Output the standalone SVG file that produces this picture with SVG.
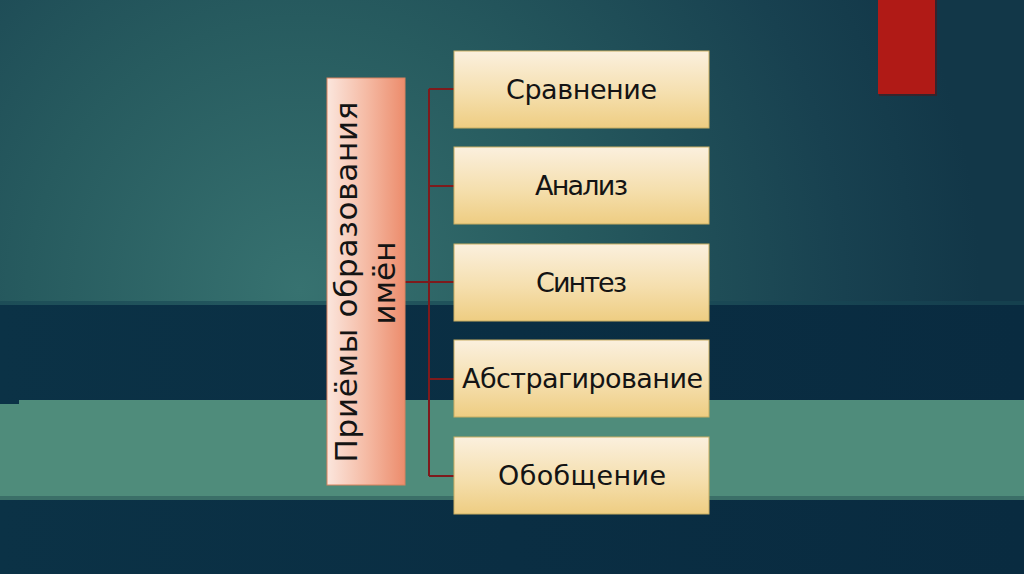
<svg xmlns="http://www.w3.org/2000/svg" width="1024" height="574" viewBox="0 0 1024 574">
  <defs>
    <radialGradient id="bgTop" gradientUnits="userSpaceOnUse" cx="300" cy="290" r="680">
      <stop offset="0" stop-color="#377270"/>
      <stop offset="0.4" stop-color="#275b5f"/>
      <stop offset="0.8" stop-color="#184150"/>
      <stop offset="1" stop-color="#123748"/>
    </radialGradient>
    <linearGradient id="navy" x1="0" y1="0" x2="1" y2="0">
      <stop offset="0" stop-color="#0b3246"/>
      <stop offset="0.5" stop-color="#0a2e43"/>
      <stop offset="1" stop-color="#092b40"/>
    </linearGradient>
    <linearGradient id="labelFill" x1="0" y1="0" x2="1" y2="0">
      <stop offset="0" stop-color="#fbe6dd"/>
      <stop offset="0.5" stop-color="#f5bba5"/>
      <stop offset="1" stop-color="#ec8c6c"/>
    </linearGradient>
    <linearGradient id="boxFill" x1="0" y1="0" x2="0" y2="1">
      <stop offset="0" stop-color="#fbf0de"/>
      <stop offset="0.55" stop-color="#f5dfae"/>
      <stop offset="1" stop-color="#eecd82"/>
    </linearGradient>
    <style>
      .box { fill: url(#boxFill); stroke: #c9ae62; stroke-width: 1; }
      .lbl { font-family: "DejaVu Sans", "Liberation Sans", sans-serif; font-size: 27px; fill: #141414; text-anchor: middle; }
      .vlbl { font-family: "DejaVu Sans", "Liberation Sans", sans-serif; font-size: 31px; fill: #141414; text-anchor: middle; }
      .conn { stroke: #7e1a1c; stroke-width: 2; fill: none; }
    </style>
  </defs>

  <!-- background -->
  <rect x="0" y="0" width="1024" height="305" fill="url(#bgTop)"/>
  <rect x="0" y="301" width="1024" height="4" fill="#174654" opacity="0.6"/>
  <rect x="0" y="305" width="1024" height="95" fill="url(#navy)"/>
  <rect x="0" y="400" width="1024" height="96" fill="#4f8c7b"/>
  <rect x="0" y="400" width="19" height="4" fill="#0b3246"/>
  <rect x="0" y="496" width="1024" height="4" fill="#3b6f68"/>
  <rect x="0" y="500" width="1024" height="74" fill="url(#navy)"/>

  <!-- red accent -->
  <rect x="879" y="0" width="58" height="96" fill="#5a1010" opacity="0.5"/>
  <rect x="878" y="0" width="57" height="94" fill="#b01a16"/>

  <!-- connectors -->
  <g id="connectors">
    <line class="conn" x1="405" y1="282" x2="429" y2="282"/>
    <line class="conn" x1="429" y1="89" x2="429" y2="476"/>
    <line class="conn" x1="429" y1="89" x2="454" y2="89"/>
    <line class="conn" x1="429" y1="186" x2="454" y2="186"/>
    <line class="conn" x1="429" y1="282" x2="454" y2="282"/>
    <line class="conn" x1="429" y1="379" x2="454" y2="379"/>
    <line class="conn" x1="429" y1="476" x2="454" y2="476"/>
  </g>

  <!-- root label -->
  <g id="root">
    <rect x="327" y="78" width="78" height="407" fill="url(#labelFill)" stroke="#d9825e" stroke-width="1"/>
    <text class="vlbl" transform="translate(357,282) rotate(-90)" x="0" y="0" textLength="361" lengthAdjust="spacing">Приёмы образования</text>
    <text class="vlbl" transform="translate(395,283) rotate(-90)" x="0" y="0">имён</text>
  </g>

  <g id="n1">
    <rect class="box" x="454" y="51" width="255" height="77"/>
    <text class="lbl" x="581.5" y="99" textLength="151" lengthAdjust="spacing">Сравнение</text>
  </g>
  <g id="n2">
    <rect class="box" x="454" y="147" width="255" height="77"/>
    <text class="lbl" x="581.5" y="195" textLength="93" lengthAdjust="spacing">Анализ</text>
  </g>
  <g id="n3">
    <rect class="box" x="454" y="244" width="255" height="77"/>
    <text class="lbl" x="581.5" y="292" textLength="91" lengthAdjust="spacing">Синтез</text>
  </g>
  <g id="n4">
    <rect class="box" x="454" y="340" width="255" height="77"/>
    <text class="lbl" x="582.5" y="388" textLength="241" lengthAdjust="spacing">Абстрагирование</text>
  </g>
  <g id="n5">
    <rect class="box" x="454" y="437" width="255" height="77"/>
    <text class="lbl" x="582" y="485" textLength="168" lengthAdjust="spacing">Обобщение</text>
  </g>
</svg>
